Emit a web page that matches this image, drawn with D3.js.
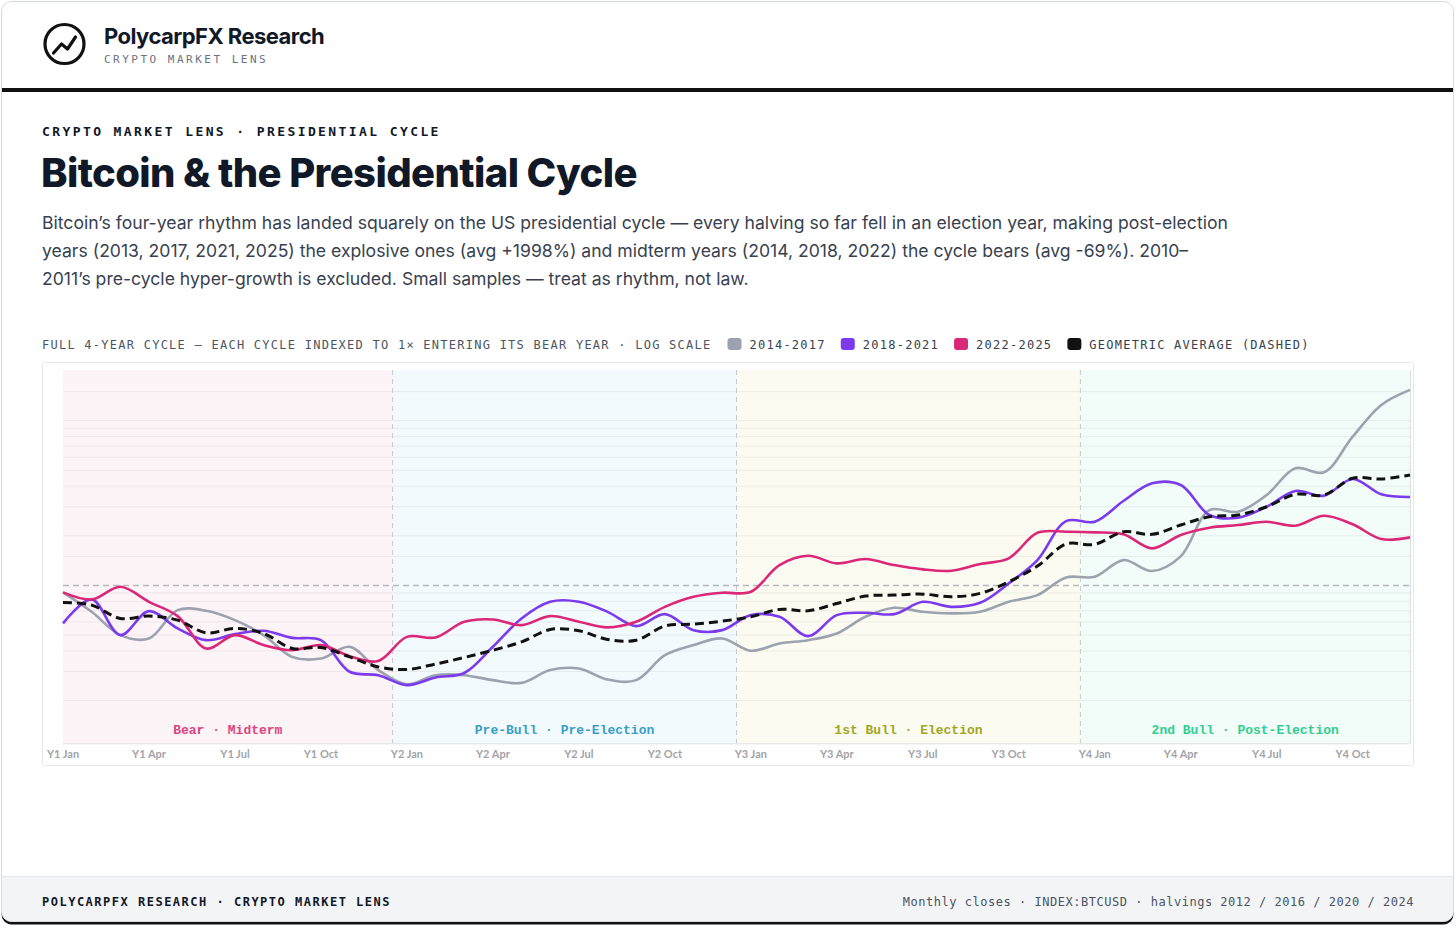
<!DOCTYPE html>
<meta charset="utf-8">
<head>
  <style>
    body { margin: 0; background: #fff; }
    svg text { font-family: Inter, "Noto Sans", sans-serif; }
    .mono { font-family: "DejaVu Sans Mono", monospace; }
    .phase { font-family: "Liberation Mono", monospace; font-weight: bold; font-size: 13px; }
    .tick { font-family: Lato, sans-serif; font-weight: bold; font-size: 11px; fill: #a3a3a8; }
  </style>
</head>
<body>
<script src="https://d3js.org/d3.v7.min.js"></script>
<script>
// months 0..47 = Y1 Jan .. Y4 Dec, each cycle indexed to 1x entering its bear year
var s2014 = [0.907,0.691,0.499,0.476,0.708,0.701,0.615,0.499,0.368,0.360,0.424,0.306,
             0.251,0.285,0.285,0.266,0.256,0.306,0.313,0.268,0.266,0.377,0.434,0.476,
             0.401,0.444,0.465,0.511,0.645,0.731,0.691,0.676,0.691,0.795,0.873,1.118,
             1.128,1.424,1.222,1.500,2.867,2.800,3.537,5.138,4.859,7.993,12.46,15.37];
var s2018 = [0.588,0.822,0.499,0.698,0.548,0.465,0.506,0.530,0.480,0.465,0.299,0.285,
             0.248,0.276,0.294,0.424,0.630,0.795,0.795,0.691,0.566,0.669,0.535,0.535,
             0.660,0.645,0.492,0.660,0.682,0.669,0.795,0.741,0.784,1.028,1.424,2.458,
             2.434,3.252,4.166,4.068,2.674,2.575,3.002,3.740,3.502,4.424,3.572,3.440];
var s2022 = [0.907,0.822,0.981,0.795,0.651,0.414,0.499,0.434,0.404,0.434,0.372,0.348,
             0.487,0.483,0.601,0.621,0.574,0.651,0.601,0.556,0.601,0.741,0.853,0.902,
             0.914,1.328,1.512,1.360,1.445,1.328,1.251,1.227,1.347,1.459,2.087,2.116,
             2.099,2.041,1.678,2.021,2.239,2.324,2.434,2.302,2.648,2.348,1.911,1.957];
var geoAvg = [0.788,0.759,0.630,0.651,0.615,0.515,0.548,0.511,0.414,0.420,0.368,0.320,
              0.309,0.333,0.365,0.404,0.454,0.540,0.530,0.470,0.465,0.566,0.582,0.607,
              0.645,0.715,0.701,0.777,0.861,0.873,0.885,0.853,0.894,1.052,1.310,1.782,
              1.775,2.116,2.041,2.324,2.611,2.674,3.002,3.572,3.537,4.467,4.424,4.679];

var tickLabels = ["Y1 Jan","Y1 Apr","Y1 Jul","Y1 Oct","Y2 Jan","Y2 Apr","Y2 Jul","Y2 Oct",
                  "Y3 Jan","Y3 Apr","Y3 Jul","Y3 Oct","Y4 Jan","Y4 Apr","Y4 Jul","Y4 Oct"];
var tickMonths = [0,3,6,9,12,15,18,21,24,27,30,33,36,39,42,45];

var phaseNames = ["Bear \u00b7 Midterm","Pre-Bull \u00b7 Pre-Election","1st Bull \u00b7 Election","2nd Bull \u00b7 Post-Election"];
var phaseFrom = [0, 11.5, 23.5, 35.5];
var phaseTo = [11.5, 23.5, 35.5, 47];
var phaseFill = ["rgba(219,39,119,0.05)","rgba(14,165,233,0.055)","rgba(200,200,40,0.065)","rgba(16,200,140,0.055)"];
var phaseText = ["#d9467f","#3a9fc6","#a2a526","#2fcf92"];

var gridVals = [0.2,0.3,0.4,0.5,0.6,0.7,0.8,0.9,1.5,2,3,4,5,6,7,8,9,10,15];

var seriesNames = ["2014-2017","2018-2021","2022-2025","GEOMETRIC AVERAGE (DASHED)"];
var seriesColors = ["#9ca3af","#7c3aed","#db2777","#111111"];

var paraLines = [
  "Bitcoin\u2019s four-year rhythm has landed squarely on the US presidential cycle \u2014 every halving so far fell in an election year, making post-election",
  "years (2013, 2017, 2021, 2025) the explosive ones (avg +1998%) and midterm years (2014, 2018, 2022) the cycle bears (avg -69%). 2010\u2013",
  "2011\u2019s pre-cycle hyper-growth is excluded. Small samples \u2014 treat as rhythm, not law."
];

var W = 1456, H = 928;
var svg = d3.select("body").append("svg").attr("width", W).attr("height", H);

// card with hard bottom shadow
svg.append("rect").attr("x", 1.5).attr("y", 4.5).attr("width", 1452).attr("height", 920).attr("rx", 10).attr("fill", "#111");
svg.append("clipPath").attr("id", "card").append("rect")
  .attr("x", 1.5).attr("y", 1.5).attr("width", 1452).attr("height", 920).attr("rx", 10);
svg.append("rect").attr("x", 1.5).attr("y", 1.5).attr("width", 1452).attr("height", 920).attr("rx", 10)
  .attr("fill", "#fff");
var inner = svg.append("g").attr("clip-path", "url(#card)");
inner.append("rect").attr("x", 0).attr("y", 876).attr("width", W).attr("height", 50).attr("fill", "#f3f4f6");
inner.append("line").attr("x1", 0).attr("x2", W).attr("y1", 876.5).attr("y2", 876.5).attr("stroke", "#e5e7eb");
inner.append("rect").attr("x", 0).attr("y", 88).attr("width", W).attr("height", 4).attr("fill", "#111");
svg.append("rect").attr("x", 1.5).attr("y", 1.5).attr("width", 1452).attr("height", 920).attr("rx", 10)
  .attr("fill", "none").attr("stroke", "#d6dae2");

// logo
svg.append("circle").attr("cx", 64.5).attr("cy", 44).attr("r", 19.5)
  .attr("fill", "none").attr("stroke", "#111").attr("stroke-width", 3.2);
svg.append("polyline").attr("points", "53.5,53 61.5,44 67.5,49 75.5,37")
  .attr("fill", "none").attr("stroke", "#111").attr("stroke-width", 3.2)
  .attr("stroke-linecap", "round").attr("stroke-linejoin", "round");

svg.append("text").text("PolycarpFX Research").attr("x", 104).attr("y", 43.5)
  .attr("font-size", 22).attr("font-weight", 700).attr("letter-spacing", -0.55).attr("fill", "#111827");
svg.append("text").attr("class", "mono").text("CRYPTO MARKET LENS").attr("x", 104).attr("y", 63)
  .attr("font-size", 11).attr("letter-spacing", 2.5).attr("fill", "#6b7280");

svg.append("text").attr("class", "mono").text("CRYPTO MARKET LENS \u00b7 PRESIDENTIAL CYCLE")
  .attr("x", 42).attr("y", 136).attr("font-size", 13).attr("font-weight", 700)
  .attr("letter-spacing", 2.4).attr("fill", "#111827");
svg.append("text").text("Bitcoin & the Presidential Cycle").attr("x", 41).attr("y", 187)
  .attr("font-size", 40).attr("font-weight", 800).attr("letter-spacing", -0.6).attr("fill", "#111827");

svg.selectAll("text.para").data(paraLines).enter().append("text")
  .attr("class", "para").text(function(d) { return d; })
  .attr("x", 42).attr("y", function(d, i) { return 228.5 + i * 28; })
  .attr("font-size", 17.6).attr("fill", "#374151");

// legend row
var cap = svg.append("text").attr("class", "mono")
  .text("FULL 4-YEAR CYCLE \u2014 EACH CYCLE INDEXED TO 1\u00d7 ENTERING ITS BEAR YEAR \u00b7 LOG SCALE")
  .attr("x", 42).attr("y", 348.5).attr("font-size", 12).attr("letter-spacing", 1.25).attr("fill", "#4b5563");
var lx = 42 + cap.node().getComputedTextLength() + 16;
seriesNames.forEach(function(name, i) {
  svg.append("rect").attr("x", lx).attr("y", 338).attr("width", 14).attr("height", 12).attr("rx", 3)
    .attr("fill", seriesColors[i]);
  var t = svg.append("text").attr("class", "mono").text(name).attr("x", lx + 22).attr("y", 348.5)
    .attr("font-size", 12).attr("letter-spacing", 1.25).attr("fill", "#374151");
  lx += 22 + t.node().getComputedTextLength() + 15;
});

// chart box
svg.append("rect").attr("x", 42.5).attr("y", 362.5).attr("width", 1371).attr("height", 403).attr("rx", 3)
  .attr("fill", "#fff").attr("stroke", "#e5e7eb");

var g = svg.append("g").attr("transform", "translate(42,362)");
var x = d3.scaleLinear().domain([0, 47]).range([21, 1368]);
var y = d3.scaleLog().domain([0.11, 20.3]).range([381.3, 8]);
var plotTop = y.range()[1], plotBot = y.range()[0];

g.selectAll("rect.band").data(phaseNames).enter().append("rect")
  .attr("class", "band")
  .attr("x", function(d, i) { return x(phaseFrom[i]); })
  .attr("width", function(d, i) { return x(phaseTo[i]) - x(phaseFrom[i]); })
  .attr("y", plotTop).attr("height", plotBot - plotTop)
  .attr("fill", function(d, i) { return phaseFill[i]; });

g.selectAll("line.grid").data(gridVals).enter().append("line")
  .attr("class", "grid")
  .attr("x1", x(0)).attr("x2", x(47))
  .attr("y1", function(d) { return y(d); }).attr("y2", function(d) { return y(d); })
  .attr("stroke", "#000").attr("stroke-opacity", 0.06);

g.selectAll("line.div").data(phaseFrom.slice(1)).enter().append("line")
  .attr("class", "div")
  .attr("x1", function(d) { return x(d); }).attr("x2", function(d) { return x(d); })
  .attr("y1", plotTop).attr("y2", plotBot)
  .attr("stroke", "#c8ccd2").attr("stroke-dasharray", "5,4");

g.append("line").attr("x1", x(0)).attr("x2", x(47)).attr("y1", y(1)).attr("y2", y(1))
  .attr("stroke", "#b5b8be").attr("stroke-width", 1.5).attr("stroke-dasharray", "6,4");

// axis frame
g.append("line").attr("x1", x(0)).attr("x2", x(47)).attr("y1", plotBot + 0.5).attr("y2", plotBot + 0.5).attr("stroke", "#dcdee2");
g.append("line").attr("x1", x(47) + 0.5).attr("x2", x(47) + 0.5).attr("y1", plotTop).attr("y2", plotBot).attr("stroke", "#dcdee2");

g.selectAll("text.phase").data(phaseNames).enter().append("text")
  .attr("class", "phase").text(function(d) { return d; })
  .attr("x", function(d, i) { return (x(phaseFrom[i]) + x(phaseTo[i])) / 2; })
  .attr("y", 372).attr("text-anchor", "middle")
  .attr("fill", function(d, i) { return phaseText[i]; });

g.selectAll("text.tick").data(tickLabels).enter().append("text")
  .attr("class", "tick").text(function(d) { return d; })
  .attr("x", function(d, i) { return x(tickMonths[i]); })
  .attr("y", 396).attr("text-anchor", "middle");

var line = d3.line()
  .x(function(d, i) { return x(i); })
  .y(function(d) { return y(d); })
  .curve(d3.curveCatmullRom.alpha(0.5));

[s2014, s2018, s2022].forEach(function(s, i) {
  g.append("path").attr("d", line(s)).attr("fill", "none")
    .attr("stroke", seriesColors[i]).attr("stroke-width", 2.6).attr("stroke-linejoin", "round");
});
g.append("path").attr("d", line(geoAvg)).attr("fill", "none")
  .attr("stroke", seriesColors[3]).attr("stroke-width", 3).attr("stroke-dasharray", "9,5");

// footer
svg.append("text").attr("class", "mono").text("POLYCARPFX RESEARCH \u00b7 CRYPTO MARKET LENS")
  .attr("x", 42).attr("y", 905.5).attr("font-size", 12).attr("font-weight", 700)
  .attr("letter-spacing", 1.5).attr("fill", "#111827");
svg.append("text").attr("class", "mono")
  .text("Monthly closes \u00b7 INDEX:BTCUSD \u00b7 halvings 2012 / 2016 / 2020 / 2024")
  .attr("x", 1414).attr("y", 905.5).attr("text-anchor", "end").attr("font-size", 12)
  .attr("letter-spacing", 0.52).attr("fill", "#4b5563");
</script>
</body>
